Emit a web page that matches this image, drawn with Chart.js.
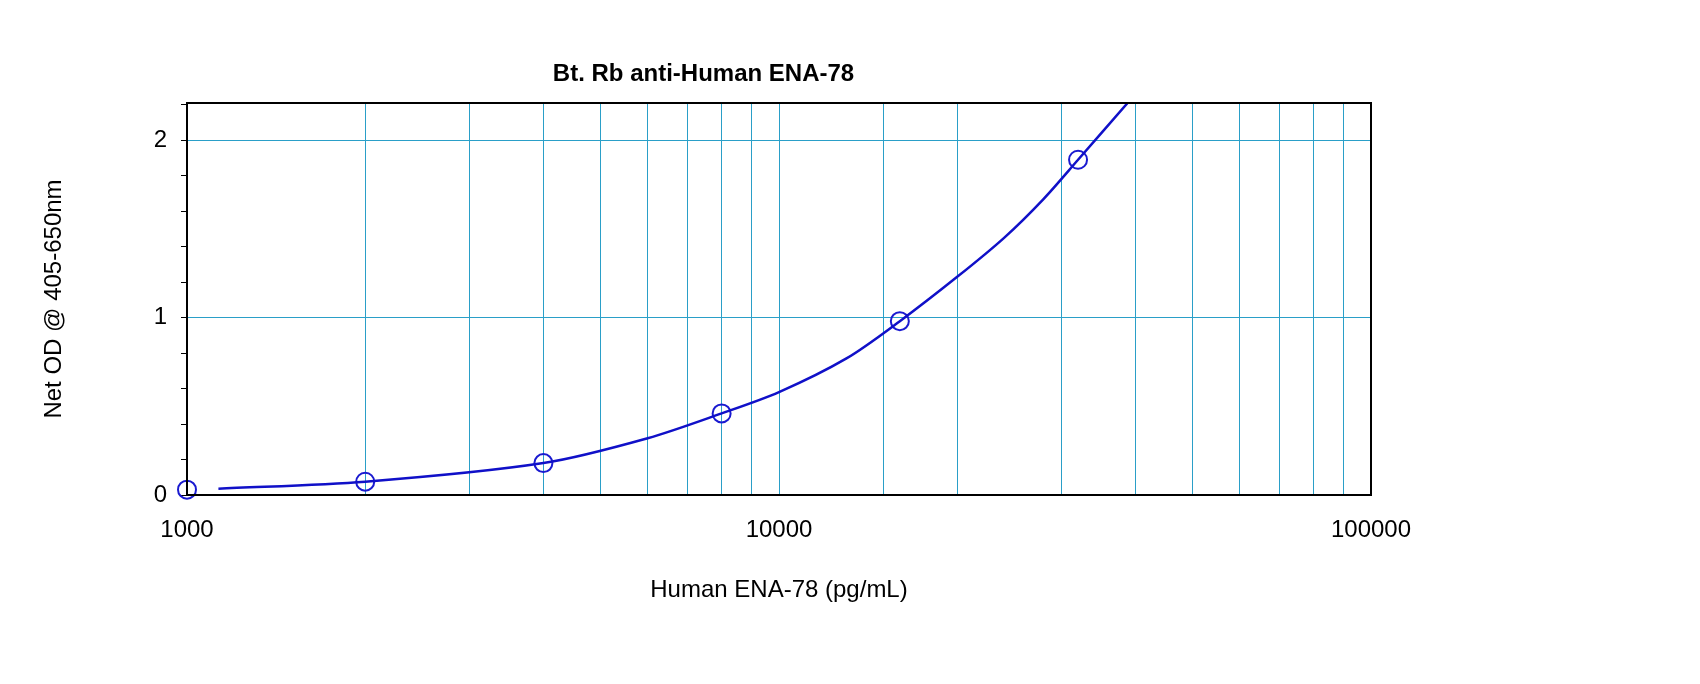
<!DOCTYPE html>
<html><head><meta charset="utf-8">
<script src="https://cdn.jsdelivr.net/npm/chart.js@4/dist/chart.umd.min.js"></script>
<style>html,body{margin:0;padding:0;background:#fff}#w{width:1700px;height:684px}</style>
</head><body><div id="w"><canvas id="c"></canvas></div>
<script>
const conc = [1000, 2000, 4000, 8000, 16000, 32000];
const od = [0.03, 0.075, 0.18, 0.46, 0.98, 1.89];
const curveX = [1130, 2000, 4000, 6000, 8000, 10000, 13000, 16000, 20000, 24000, 28000, 32000, 38800];
const curveY = [0.035, 0.075, 0.18, 0.32, 0.46, 0.58, 0.77, 0.98, 1.23, 1.45, 1.67, 1.89, 2.21];
const xTickLabels = [1000, 10000, 100000];
const yTickLabels = [0, 1, 2];
const title = 'Bt. Rb anti-Human ENA-78';
const xTitle = 'Human ENA-78 (pg/mL)';
const yTitle = 'Net OD @ 405-650nm';

const grid = '#2a9fc8';
const font = {family: 'Arial, "Liberation Sans", sans-serif', size: 24};
const isInt = v => Math.abs(v - Math.round(v)) < 1e-6;

const frame = {id:'frame', afterDatasetsDraw(ch){const a=ch.chartArea,c=ch.ctx;c.save();c.strokeStyle='#000';c.lineWidth=2;c.strokeRect(a.left,a.top,a.right-a.left,a.bottom-a.top);c.restore();}};

new Chart(document.getElementById('c'), {
  type: 'scatter',
  data: { datasets: [
    { data: curveX.map((x,i)=>({x, y: curveY[i]})), showLine: true, borderColor: '#1010c8', borderWidth: 2.5, pointRadius: 0, tension: 0.3, fill: false },
    { data: conc.map((x,i)=>({x, y: od[i]})), showLine: false, clip: false, pointRadius: 9, pointBorderWidth: 2, pointBorderColor: '#1a1ad0', pointBackgroundColor: 'rgba(0,0,0,0)' }
  ]},
  options: {
    responsive: true, maintainAspectRatio: false, animation: false,
    layout: { padding: { left: 36, right: 329, top: 0, bottom: 75 } },
    plugins: {
      legend: { display: false }, tooltip: { enabled: false },
      title: { display: true, text: title, color: '#000', font: {...font, weight: 'bold'}, padding: { top: 60, bottom: 14.2 } }
    },
    scales: {
      x: { type: 'logarithmic', min: 1000, max: 100000,
        afterFit: s => { s.height = 114; },
        grid: { color: grid, lineWidth: 1, tickLength: 0 }, border: { display: false },
        ticks: { color: '#000', font, padding: 21, autoSkip: false, maxRotation: 0,
          callback: v => xTickLabels.includes(v) ? String(v) : '' },
        title: { display: true, text: xTitle, color: '#000', font }
      },
      y: { min: 0, max: 2.21,
        afterFit: s => { s.width = 187 - 36; },
        afterBuildTicks: s => { const t=[]; for (let i=0;i<=11;i++) t.push({value: Math.round(i*0.2*10)/10}); s.ticks=t; },
        grid: { color: c => isInt(c.tick.value) ? grid : 'rgba(0,0,0,0)', tickColor: '#000', tickLength: 6, drawTicks: true },
        border: { display: false },
        ticks: { color: '#000', font, padding: 14, callback: v => yTickLabels.includes(v) ? String(v) : '' },
        title: { display: true, text: yTitle, color: '#000', font }
      }
    }
  },
  plugins: [frame]
});
</script></body></html>
